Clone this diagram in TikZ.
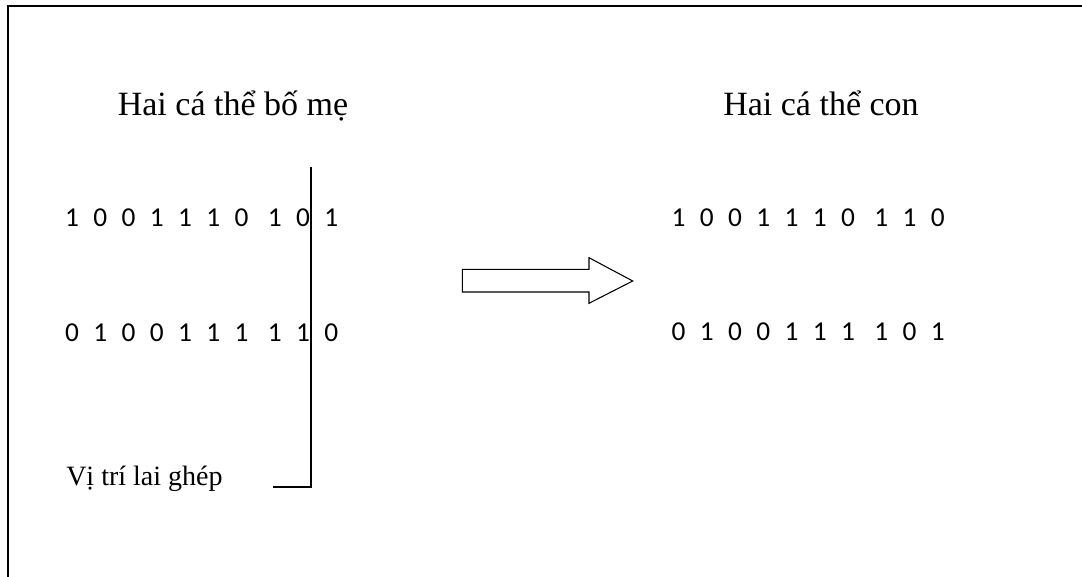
\documentclass[tikz,border=0pt]{standalone}
\usepackage{fontspec}
\setmainfont{Liberation Serif}
\newfontfamily\bitfont{Carlito}
\usetikzlibrary{calc}
\newcommand{\chrom}[4]{\node[anchor=base west, inner sep=0pt, font=\bitfont\fontsize{20.5}{24}\selectfont] (#1) at ( #2 , #3 ) {\spaceskip=10.8pt\relax #4};}
\newcommand{\titlenode}[4]{\node[anchor=base, inner sep=0pt, font=\fontsize{25.5}{30}\selectfont] (#1) at ( #2 , #3 ) {#4};}
\newcommand{\gp}{\hspace{3.75pt}}

\begin{document}
\begin{tikzpicture}[x=0.75pt, y=-0.75pt]
        \useasboundingbox (0,0) rectangle (1082,577);
        % frame
        \draw[line width=1.5pt] (1090,6) -- (8,6) -- (8,590);
        % titles
        \titlenode{parents}{233}{116}{Hai cá thể bố mẹ}
        \titlenode{children}{821}{116}{Hai cá thể con}
        % parents
        \chrom{p1}{64.8}{227}{1 0 0 1 1 1 0\gp{} 1 0 1}
        \chrom{p2}{64.8}{341.5}{0 1 0 0 1 1 1\gp{} 1 1 0}
        % children
        \chrom{c1}{671.4}{227}{1 0 0 1 1 1 0\gp{} 1 1 0}
        \chrom{c2}{671.4}{340.5}{0 1 0 0 1 1 1\gp{} 1 0 1}
        % crossover point
        \node[anchor=base west, inner sep=0pt, font=\fontsize{21}{25}\selectfont] (cut) at (66,485) {Vị trí lai ghép};
        \coordinate (cuttop) at (311,167);
        \coordinate (cutbot) at (311,487);
        \coordinate (cutend) at (273,487);
        \draw[line width=1.2pt] (cuttop) -- (cutbot) -- (cutend);
        % arrow
        \draw[line width=0.8pt] (462.3,269.3) -- (589,269.3) -- (589,257.7) -- (632.7,281)
            -- (589,303.3) -- (589,292) -- (462.3,292) -- cycle;
\end{tikzpicture}
\end{document}
